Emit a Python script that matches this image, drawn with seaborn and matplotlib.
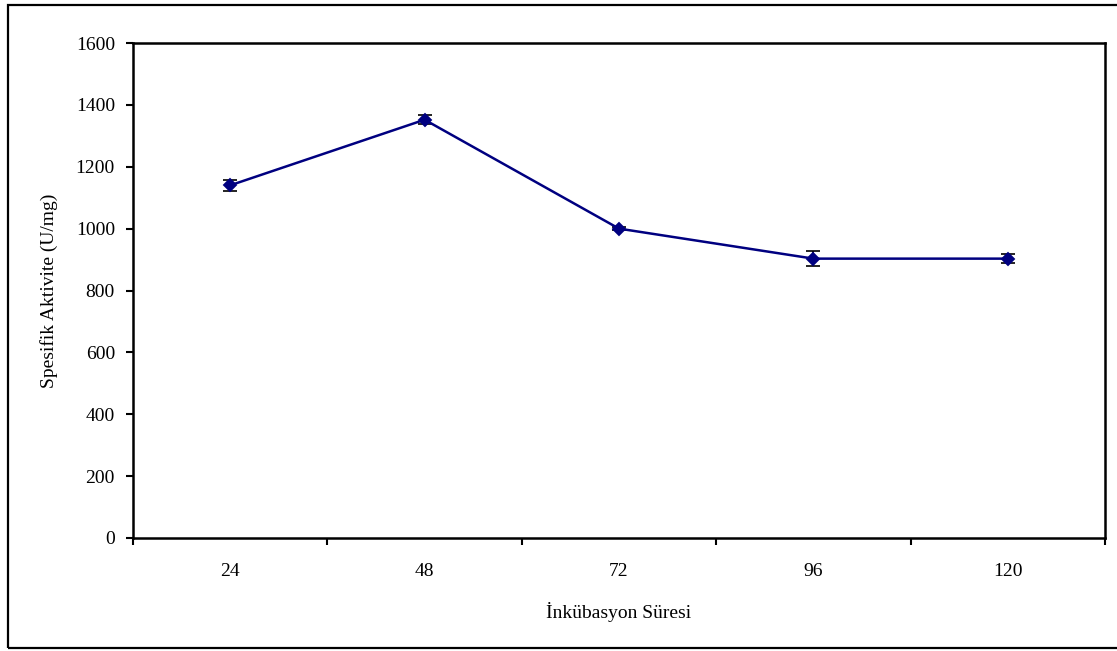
import matplotlib
matplotlib.use("Agg")
import matplotlib.pyplot as plt
from matplotlib.patches import Rectangle
from matplotlib.ticker import FixedLocator
import numpy as np
import pandas as pd
import seaborn as sns

# Incubation time (hours) and measured specific activity
incubation_hours = ["24", "48", "72", "96", "120"]
specific_activity = [1140, 1352, 1000, 903, 903]
activity_error = [17, 14, 5, 25, 15]

df = pd.DataFrame({"time": incubation_hours, "activity": specific_activity})

sns.set_theme(style="white")
plt.rcParams["font.family"] = ["Liberation Serif", "DejaVu Serif"]

W, H = 1117, 651
fig = plt.figure(figsize=(W / 100, H / 100), dpi=100)
ax = fig.add_axes([133 / W, 1 - 538 / H, (1105 - 133) / W, (538 - 43) / H])

navy = "#000080"
sns.pointplot(data=df, x="time", y="activity", order=incubation_hours,
              color=navy, markers="D", linestyles="-", errorbar=None,
              markersize=6.6, linewidth=1.8, ax=ax)

xpos = np.arange(len(incubation_hours))
ax.errorbar(xpos, specific_activity, yerr=activity_error, fmt="none",
            ecolor="black", elinewidth=1.2, capsize=4.7, capthick=1.2, zorder=1)

ax.set_xlim(-0.5, len(incubation_hours) - 0.5)
ax.set_ylim(0, 1600)
ax.set_yticks(np.arange(0, 1601, 200))

# category axis: tick marks sit between categories, labels in the middle
ax.set_xticks(xpos)
ax.set_xticklabels(incubation_hours)
ax.xaxis.set_minor_locator(FixedLocator(np.arange(-0.5, len(incubation_hours), 1.0)))
ax.tick_params(axis="x", which="major", length=0, pad=18, labelsize=14, colors="black")
ax.tick_params(axis="x", which="minor", length=5, width=1.5, direction="out",
               color="black", bottom=True)
ax.tick_params(axis="y", length=5, width=1.5, direction="out", left=True,
               pad=8, labelsize=14, colors="black")

for side in ["left", "right", "top", "bottom"]:
    ax.spines[side].set_visible(True)
    ax.spines[side].set_color("black")
    ax.spines[side].set_linewidth(1.8)

ax.grid(False)
ax.set_xlabel("İnkübasyon Süresi", fontsize=14, color="black", labelpad=16)
ax.set_ylabel("Spesifik Aktivite (U/mg)", fontsize=14, color="black", labelpad=13)

# frame around the whole chart
fig.patches.append(Rectangle((8 / W, 1 - 648 / H), 1.2, (648 - 5) / H,
                             transform=fig.transFigure, fill=False,
                             edgecolor="black", linewidth=1.6))

fig.savefig("out.png", dpi=100)
